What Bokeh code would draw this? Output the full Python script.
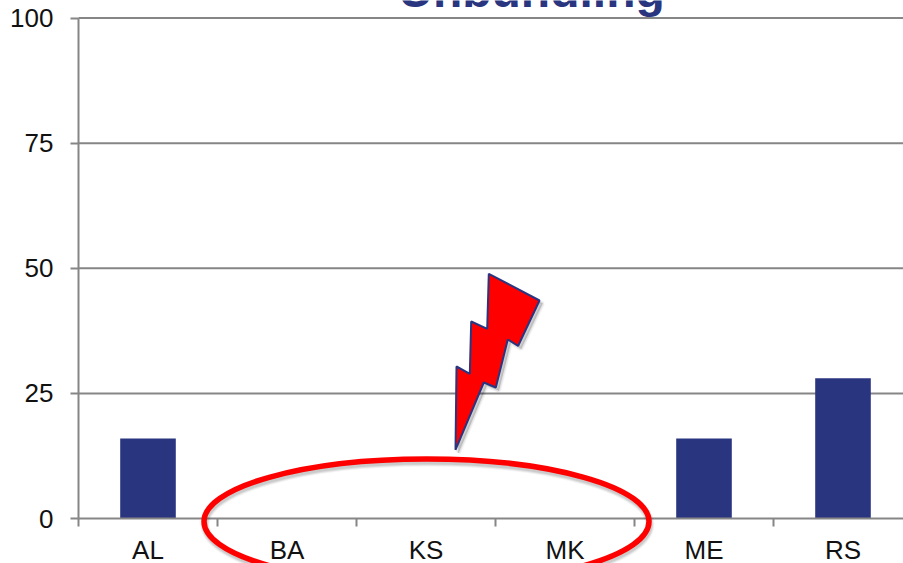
import numpy as np
from bokeh.plotting import figure
from bokeh.models import Range1d, FixedTicker
from bokeh.core.properties import value
from bokeh.embed import file_html
from bokeh.resources import INLINE

categories = ["AL", "BA", "KS", "MK", "ME", "RS"]
values = [16, 0, 0, 0, 16, 28]
y_ticks = [0, 25, 50, 75, 100]
title_text = "Unbundling"

NAVY = "#2a3580"
GRAY = "#868686"
RED = "#ff0000"
FONT = "Liberation Sans"

# plot area in page pixels
LEFT, BOTTOM = 78, 518
CAT_W = 139
PX_PER_UNIT = 5.005
W, H = 903, 563

def dx(px):
    return (np.asarray(px, dtype=float) - LEFT) / CAT_W

def dy(py):
    return (BOTTOM - np.asarray(py, dtype=float)) / PX_PER_UNIT

p = figure(width=W, height=H, output_backend="svg", toolbar_location=None,
           x_range=Range1d(float(dx(0)), float(dx(W))),
           y_range=Range1d(float(dy(H)), float(dy(0))),
           min_border_left=0, min_border_right=0, min_border_top=0, min_border_bottom=0)
p.styles = {"position": "absolute", "left": "0px", "top": "0px"}
p.outline_line_color = None
p.background_fill_color = "white"
p.xgrid.visible = False
p.ygrid.visible = False

n = len(categories)
centers = [i + 0.5 for i in range(n)]
upper = float(dx(W))

# horizontal rules behind the bars
p.segment(x0=[0] * 4, x1=[upper] * 4, y0=y_ticks[1:], y1=y_ticks[1:],
          line_color=GRAY, line_width=2)
p.vbar(x=centers, top=values, width=0.4, bottom=0, color=NAVY, line_color=None)

yaxis = p.yaxis[0]
yaxis.fixed_location = 0
yaxis.bounds = (0, 100)
yaxis.ticker = FixedTicker(ticks=y_ticks)
yaxis.axis_line_color = GRAY
yaxis.axis_line_width = 2
yaxis.major_tick_line_color = GRAY
yaxis.major_tick_line_width = 2
yaxis.major_tick_out = 8
yaxis.major_tick_in = 0
yaxis.minor_tick_line_color = None
yaxis.major_label_text_font = FONT
yaxis.major_label_text_font_size = "26px"
yaxis.major_label_text_color = "#111111"
yaxis.major_label_standoff = 17

xaxis = p.xaxis[0]
xaxis.fixed_location = 0
xaxis.bounds = (0, n)
xaxis.ticker = FixedTicker(ticks=centers, minor_ticks=list(range(n + 1)))
xaxis.major_label_overrides = {c: t for c, t in zip(centers, categories)}
xaxis.axis_line_color = GRAY
xaxis.axis_line_width = 2
xaxis.major_tick_line_color = None
xaxis.major_tick_out = 8
xaxis.major_tick_in = 0
xaxis.minor_tick_line_color = GRAY
xaxis.minor_tick_line_width = 2
xaxis.minor_tick_out = 8
xaxis.minor_tick_in = 0
xaxis.major_label_text_font = FONT
xaxis.major_label_text_font_size = "26px"
xaxis.major_label_text_color = "#111111"
xaxis.major_label_standoff = 8

# title, cropped by the top of the page as in the reference
p.text(x=[float(dx(531))], y=[float(dy(-10))], text=[title_text],
       text_font=value(FONT), text_font_style="bold", text_font_size="48px",
       text_color=NAVY, text_align="center", text_baseline="alphabetic")

# callout shapes (page pixels)
bolt_px = [(488.3, 273.3), (539, 300), (517.7, 345.3), (507.3, 339), (495.3, 387),
           (483.3, 382), (455, 449.3), (456, 366), (469.3, 373.3), (470.7, 321),
           (486.7, 328.3)]
bx = np.array([q[0] for q in bolt_px])
by = np.array([q[1] for q in bolt_px])
ell_cx, ell_cy, ell_w, ell_h = 426, 521, 445, 125

# soft shadows
for off, width, alpha in [(3, 9, 0.05), (3, 7, 0.07), (3, 5, 0.09)]:
    p.ellipse(x=[float(dx(ell_cx + off * 0.3))], y=[float(dy(ell_cy + off))],
              width=ell_w / CAT_W, height=ell_h / PX_PER_UNIT,
              fill_alpha=0, line_color="black", line_alpha=alpha, line_width=width, level="overlay")
for off, width, alpha in [(3, 5, 0.04), (3, 3, 0.06), (3, 1, 0.07)]:
    p.patch(x=dx(bx + off), y=dy(by + off), fill_color="black", fill_alpha=alpha,
            line_color="black", line_alpha=alpha, line_width=width, level="overlay")

p.ellipse(x=[float(dx(ell_cx))], y=[float(dy(ell_cy))], width=ell_w / CAT_W, height=ell_h / PX_PER_UNIT,
          fill_alpha=0, line_color=RED, line_width=5.5, level="overlay")
p.patch(x=dx(bx), y=dy(by), fill_color=RED, line_color=NAVY, line_width=2, level="overlay")

open("out.html", "w").write(file_html(p, INLINE))
